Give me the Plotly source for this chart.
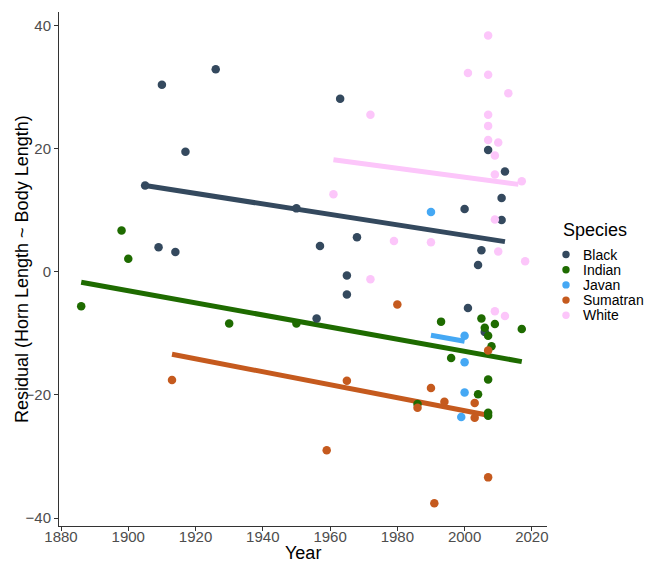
import plotly.graph_objects as go

species = ["Black", "Indian", "Javan", "Sumatran", "White"]
colors = ["#34495E", "#1E6B00", "#45A8F4", "#C55A1E", "#FCC6FA"]

black_year = [1905, 1910, 1926, 1917, 1909, 1914, 1950, 1963, 1957, 1968, 1965, 1965,
              1956, 2007, 2012, 2011, 2000, 2011, 2005, 2004, 2001, 2006]
black_resid = [14.0, 30.4, 32.9, 19.5, 4.0, 3.2, 10.3, 28.1, 4.2, 5.6, -0.6, -3.7,
               -7.6, 19.8, 16.3, 12.0, 10.2, 8.4, 3.5, 1.1, -5.9, -9.8]

indian_year = [1886, 1898, 1900, 1930, 1950, 1993, 2005, 2006, 2007, 2009, 2017, 2008,
               1996, 2007, 2004, 2007, 2007, 1986]
indian_resid = [-5.6, 6.7, 2.1, -8.4, -8.4, -8.1, -7.6, -9.1, -10.4, -8.5, -9.3, -12.1,
                -14.0, -17.5, -19.9, -22.9, -23.4, -21.5]

javan_year = [1990, 2000, 2000, 2000, 1999]
javan_resid = [9.7, -10.4, -14.7, -19.6, -23.6]

sumatran_year = [1913, 1959, 1980, 1965, 1990, 1994, 1986, 2003, 2003, 2007, 2007, 1991]
sumatran_resid = [-17.6, -29.0, -5.3, -17.7, -18.9, -21.1, -22.1, -21.3, -23.7, -12.8,
                  -33.4, -37.6]

white_year = [2007, 2001, 2007, 2013, 1972, 2007, 2007, 2007, 2010, 2009, 2009, 2017,
              1961, 2009, 1979, 1990, 2010, 2018, 1972, 2009, 2012]
white_resid = [38.4, 32.3, 32.0, 29.0, 25.5, 25.5, 23.7, 21.4, 21.0, 18.9, 15.8, 14.7,
               12.6, 8.5, 5.0, 4.8, 3.3, 1.7, -1.2, -6.4, -7.2]

# fitted trend lines (start/end year and value)
fit_start_year = [1905, 1886, 1990, 1913, 1961]
fit_end_year = [2012, 2017, 2000, 2007, 2016]
fit_start_val = [14.0, -1.7, -10.3, -13.4, 18.2]
fit_end_val = [4.9, -14.6, -11.3, -23.3, 14.2]

x_ticks = [1880, 1900, 1920, 1940, 1960, 1980, 2000, 2020]
y_ticks = [-40, -20, 0, 20, 40]

years = [black_year, indian_year, javan_year, sumatran_year, white_year]
resids = [black_resid, indian_resid, javan_resid, sumatran_resid, white_resid]

W, H = 649, 562
ML, MR, MT, MB = 59, 102, 12, 36
PW, PH = W - ML - MR, H - MT - MB


def px(x):
    return (x - ML) / PW


def py(y):
    return (H - MB - y) / PH


FONT = "Liberation Sans, Arial, Helvetica, sans-serif"

fig = go.Figure()
for i, sp in enumerate(species):
    fig.add_trace(go.Scatter(
        x=[fit_start_year[i], fit_end_year[i]],
        y=[fit_start_val[i], fit_end_val[i]],
        mode="lines", line=dict(color=colors[i], width=5),
        showlegend=False, hoverinfo="skip"))
for i, sp in enumerate(species):
    fig.add_trace(go.Scatter(
        x=years[i], y=resids[i], mode="markers", name=sp, showlegend=False,
        marker=dict(color=colors[i], size=8.5, line=dict(width=0))))

axis_common = dict(
    showgrid=False, zeroline=False, showline=True, linecolor="#333333", linewidth=1,
    ticks="outside", ticklen=4, tickcolor="#333333", tickwidth=1, automargin=False,
    tickfont=dict(family=FONT, size=15, color="#4D4D4D"),
)

annotations = [
    dict(text="Year", x=0.5, xref="paper", y=py(553), yref="paper", showarrow=False,
         xanchor="center", yanchor="middle", font=dict(family=FONT, size=18, color="black")),
    dict(text="Residual (Horn Length ~ Body Length)", x=px(22), xref="paper", y=0.5, yref="paper",
         showarrow=False, textangle=-90, xanchor="center", yanchor="middle",
         font=dict(family=FONT, size=18, color="black")),
    dict(text="Species", x=px(561), xref="paper", y=py(230), yref="paper", showarrow=False,
         xanchor="left", yanchor="middle", font=dict(family=FONT, size=18, color="black")),
]
shapes = []
leg_y0, leg_dy = 254.5, 15.2
for i, sp in enumerate(species):
    yy = leg_y0 + i * leg_dy
    annotations.append(dict(text=sp, x=px(582), xref="paper", y=py(yy), yref="paper",
                            showarrow=False, xanchor="left", yanchor="middle", borderpad=0,
                            font=dict(family=FONT, size=14, color="black")))
    shapes.append(dict(type="circle", xref="paper", yref="paper", xsizemode="pixel",
                       ysizemode="pixel", xanchor=px(566), yanchor=py(yy),
                       x0=-3.7, x1=3.7, y0=-3.7, y1=3.7,
                       fillcolor=colors[i], line=dict(width=0)))

fig.update_layout(
    width=W, height=H,
    margin=dict(l=ML, r=MR, t=MT, b=MB),
    paper_bgcolor="white", plot_bgcolor="white",
    font=dict(family=FONT, color="black"),
    showlegend=False,
    xaxis=dict(range=[1879.4, 2024.5], tickvals=x_ticks, ticklabelstandoff=-7, **axis_common),
    yaxis=dict(range=[-41.3, 42.2], tickvals=y_ticks, **axis_common),
    annotations=annotations,
    shapes=shapes,
)

fig.write_html("out.html")
